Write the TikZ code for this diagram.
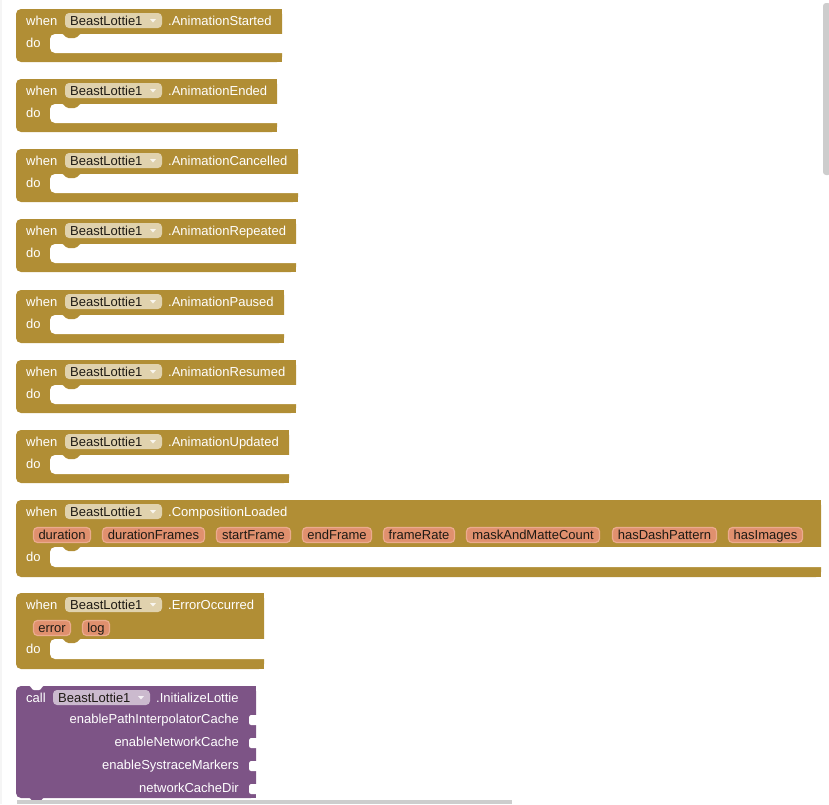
\documentclass[tikz,border=0pt]{standalone}
\usepackage{fontspec}
\setmainfont{Liberation Sans}
\definecolor{evc}{HTML}{B18E35}
\definecolor{ddc}{HTML}{E0D2AE}
\definecolor{pillc}{HTML}{E0906E}
\definecolor{pillb}{HTML}{EBAB8E}
\definecolor{prc}{HTML}{7D5486}
\definecolor{prdd}{HTML}{CBBACE}
\definecolor{sbar}{HTML}{CDCDCD}
\definecolor{dark}{HTML}{1E1A14}
% event block shape: top, right, white top, white bottom, height
\newcommand\evshape[5]{%
  \fill[evc, rounded corners=5pt] (16,#1) rectangle (#2,#1+#5);
  \fill[evc] (#2-8,#1) rectangle (#2,#1+#5);
  \fill[white, rounded corners=5pt] (50,#1+#3) rectangle (#2+30,#1+#4);
  \fill[evc, rounded corners=1.5pt] (61,#1+#3-1) -- (63,#1+#3) -- (67,#1+#3+4) -- (76,#1+#3+4) -- (80,#1+#3) -- (82,#1+#3-1) -- cycle;
}
% event header: top, name, method
\newcommand\evhead[3]{%
  \fill[ddc, rounded corners=4pt] (65,#1+4) rectangle (162,#1+19);
  \fill[white!80!ddc] (150,#1+10) -- (156,#1+10) -- (153,#1+13.5) -- cycle;
  \node[wtxt] (#2w) at (26,#1+16) {when};
  \node[dtxt] (#2c) at (70,#1+16) {BeastLottie1};
  \node[wtxt] (#2m) at (168,#1+16) {#3};
}
% do label: top, name, baseline offset
\newcommand\evdo[3]{\node[wtxt] (#2d) at (26,#1+#3) {do};}
\newcommand\sockcut[1]{%
  \fill[white, rounded corners=1pt] (258,#1-5) -- (250,#1-5) -- (249,#1-3) -- (249,#1+3.5) -- (250,#1+5) -- (258,#1+5) -- cycle;
}
\begin{document}
\begin{tikzpicture}[x=1pt, y=-1pt, font=\fontsize{13}{15}\selectfont,
  wtxt/.style={text=white, inner sep=0pt, anchor=base west},
  dtxt/.style={text=dark, inner sep=0pt, anchor=base west},
  inlabel/.style={text=white, inner sep=0pt, anchor=base east},
  pill/.style={fill=pillc, draw=pillb, line width=1.2pt, rounded corners=4pt,
    minimum height=15pt, inner sep=0pt, text=dark, text height=9.4pt, text depth=0pt}]
\useasboundingbox (0,0) rectangle (829,804);
\fill[black!4] (0,0) rectangle (2,804);

% simple event blocks
\evshape{9}{282}{25}{44}{53}   \evhead{9}{b1}{.AnimationStarted}   \evdo{9}{b1}{38}
\evshape{79}{277}{25}{44}{53}  \evhead{79}{b2}{.AnimationEnded}    \evdo{79}{b2}{38}
\evshape{149}{298}{25}{44}{53} \evhead{149}{b3}{.AnimationCancelled} \evdo{149}{b3}{38}
\evshape{219}{296}{25}{44}{53} \evhead{219}{b4}{.AnimationRepeated} \evdo{219}{b4}{38}
\evshape{290}{284}{25}{44}{53} \evhead{290}{b5}{.AnimationPaused}   \evdo{290}{b5}{38}
\evshape{360}{296}{25}{44}{53} \evhead{360}{b6}{.AnimationResumed}  \evdo{360}{b6}{38}
\evshape{430}{289}{25}{44}{53} \evhead{430}{b7}{.AnimationUpdated}  \evdo{430}{b7}{38}

% CompositionLoaded
\evshape{500}{821}{47}{67}{77} \evhead{500}{b8}{.CompositionLoaded} \evdo{500}{b8}{61}
\node[pill, minimum width=57pt] (p1) at (62,535) {duration};
\node[pill, minimum width=102pt] (p2) at (153.5,535) {durationFrames};
\node[pill, minimum width=74pt] (p3) at (253.5,535) {startFrame};
\node[pill, minimum width=69pt] (p4) at (337,535) {endFrame};
\node[pill, minimum width=71pt] (p5) at (419,535) {frameRate};
\node[pill, minimum width=133pt] (p6) at (533,535) {maskAndMatteCount};
\node[pill, minimum width=104pt] (p7) at (664.5,535) {hasDashPattern};
\node[pill, minimum width=74pt] (p8) at (765.5,535) {hasImages};

% ErrorOccurred
\evshape{593}{264}{46}{66}{76} \evhead{593}{b9}{.ErrorOccurred} \evdo{593}{b9}{60}
\node[pill, minimum width=37pt] (q1) at (52,628) {error};
\node[pill, minimum width=27pt] (q2) at (96,628) {log};

% InitializeLottie (purple)
\fill[prc, rounded corners=5pt] (16,686) rectangle (256,798);
\fill[prc] (248,686) rectangle (256,798);
\fill[white, rounded corners=1pt] (28,685) -- (30,686) -- (33,690) -- (40,690) -- (43,686) -- (45,685) -- cycle;
\fill[prc, rounded corners=1pt] (28,797) -- (30,798) -- (33,802) -- (40,802) -- (43,798) -- (45,797) -- cycle;
\fill[prdd, rounded corners=4pt] (53,690) rectangle (150,705);
\fill[white!80!prdd] (138,696) -- (144,696) -- (141,699.5) -- cycle;
\node[wtxt] (cw) at (26,702) {call};
\node[dtxt] (cc) at (58,702) {BeastLottie1};
\node[wtxt] (cm) at (156,702) {.InitializeLottie};
\node[inlabel] (i1) at (239,723.5) {enablePathInterpolatorCache};
\node[inlabel] (i2) at (239,746.5) {enableNetworkCache};
\node[inlabel] (i3) at (239,769.5) {enableSystraceMarkers};
\node[inlabel] (i4) at (239,792.5) {networkCacheDir};
\sockcut{720}\sockcut{743}\sockcut{766}\sockcut{789}

% scrollbars
\fill[sbar, rounded corners=3pt] (823,3) rectangle (831,175);
\fill[sbar] (17,800) rectangle (512,804);
\end{tikzpicture}
\end{document}
